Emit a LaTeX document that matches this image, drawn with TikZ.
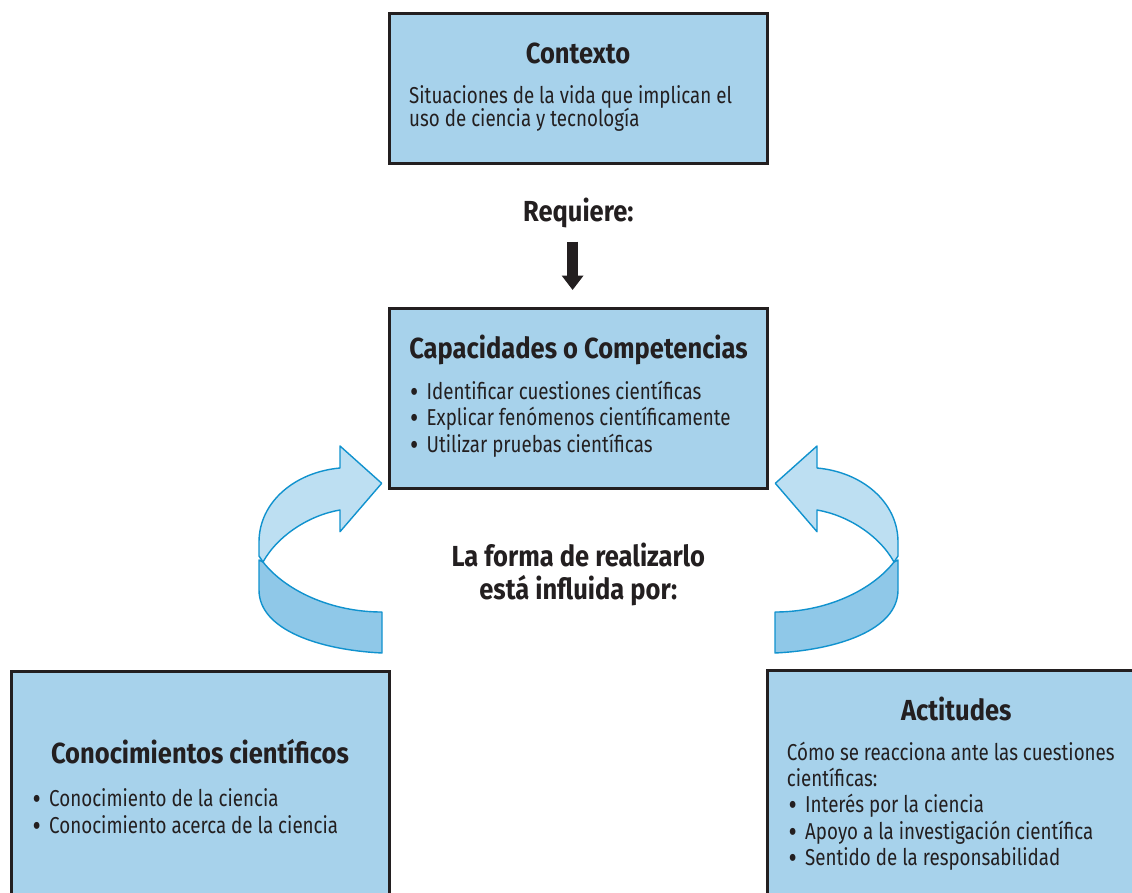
\documentclass[tikz,border=0pt]{standalone}
\usepackage{fontspec}
\usepackage{graphicx}
\setmainfont{Fira Sans}[FakeStretch=0.816, BoldFeatures={FakeStretch=0.88}]
\usetikzlibrary{arrows.meta}
\definecolor{boxfill}{RGB}{167,210,235}
\definecolor{ink}{RGB}{35,31,32}
\definecolor{rlight}{RGB}{189,223,242}
\definecolor{rdark}{RGB}{143,200,232}
\definecolor{rline}{RGB}{16,146,206}
\newcommand\bul{\makebox[16.5pt][l]{\raisebox{-3pt}{\smash{\scalebox{1.35}{•}}}}}
\tikzset{
  box/.style={draw=ink, line width=3pt, fill=boxfill, inner sep=0pt, outer sep=0pt, anchor=north west},
  ttl/.style={text=ink, inner sep=0pt, anchor=base, text height=20pt, text depth=5pt, font=\fontsize{29}{34}\selectfont\bfseries},
  body/.style={text=ink, inner sep=0pt, anchor=base west, text height=16pt, text depth=4.5pt, font=\fontsize{23}{27}\selectfont},
  ribbon/.style={draw=rline, line width=1.4pt, line join=round},
}
\begin{document}
\begin{tikzpicture}[x=1pt,y=-1pt]
\useasboundingbox (0,0) rectangle (1132,892);
\clip (0,0) rectangle (1132,892);
\fill[white] (0,0) rectangle (1132,892);

% boxes
\node[box, minimum width=378pt, minimum height=150pt] (ctx) at (389.5,13.3) {};
\node[box, minimum width=378pt, minimum height=180.8pt] (cap) at (389.7,308) {};
\node[box, minimum width=378.5pt, minimum height=240pt] (con) at (11,671) {};
\node[box, minimum width=380pt, minimum height=240pt] (act) at (767.2,670.5) {};

% Contexto
\node[ttl] (ctxt) at (578,63) {Contexto};
\node[body] (ctx1) at (409,103.3) {Situaciones de la vida que implican el};
\node[body] (ctx2) at (409,126) {uso de ciencia y tecnología};

% Requiere
\node[ttl] (req) at (578.3,221.7) {Requiere:};
\coordinate (ra) at (572.6,241.7);
\coordinate (rb) at (572.6,290);
\draw[ink, line width=10.7pt, -{Triangle[width=21pt,length=14.5pt]}] (ra) -- (rb);

% Capacidades
\node[ttl] (capt) at (578.5,358.3) {Capacidades o Competencias};
\node[body] (cap1) at (410,399) {\bul Identificar cuestiones científicas};
\node[body] (cap2) at (410,425.7) {\bul Explicar fenómenos científicamente};
\node[body] (cap3) at (410,452.3) {\bul Utilizar pruebas científicas};

% middle text
\node[ttl] (mid1) at (578.3,566.7) {La forma de realizarlo};
\node[ttl] (mid2) at (578.3,599) {está influida por:};

% Conocimientos
\node[ttl] (cont) at (200,763.3) {Conocimientos científicos};
\node[body] (con1) at (32.5,806.7) {\bul Conocimiento de la ciencia};
\node[body] (con2) at (32.5,833.3) {\bul Conocimiento acerca de la ciencia};

% Actitudes
\node[ttl] (actt) at (956.3,720) {Actitudes};
\node[body] (act1) at (786.7,760) {Cómo se reacciona ante las cuestiones};
\node[body] (act2) at (786.7,786) {científicas:};
\node[body] (act3) at (788.5,812.7) {\bul Interés por la ciencia};
\node[body] (act4) at (788.5,839.3) {\bul Apoyo a la investigación científica};
\node[body] (act5) at (788.5,865) {\bul Sentido de la responsabilidad};

% ribbons
\foreach \sx/\sh in {1/0, -1/1157} {
\begin{scope}[xshift=\sh pt, xscale=\sx]
\draw[ribbon, fill=rdark] (263,562) .. controls (285,590) and (330,612) .. (382,612)
   -- (382,653) .. controls (320,650) and (259,630) .. (259,590) -- (259,560) -- cycle;
\draw[ribbon, fill=rlight] (340,468) -- (340,446) -- (381.7,483.3) -- (340,531.7) -- (340,510)
   .. controls (310,515) and (278,535) .. (263,562) -- (259,556) -- (259,542)
   .. controls (259,502) and (295,472) .. (340,468) -- cycle;
\end{scope}
}
\end{tikzpicture}
\end{document}
